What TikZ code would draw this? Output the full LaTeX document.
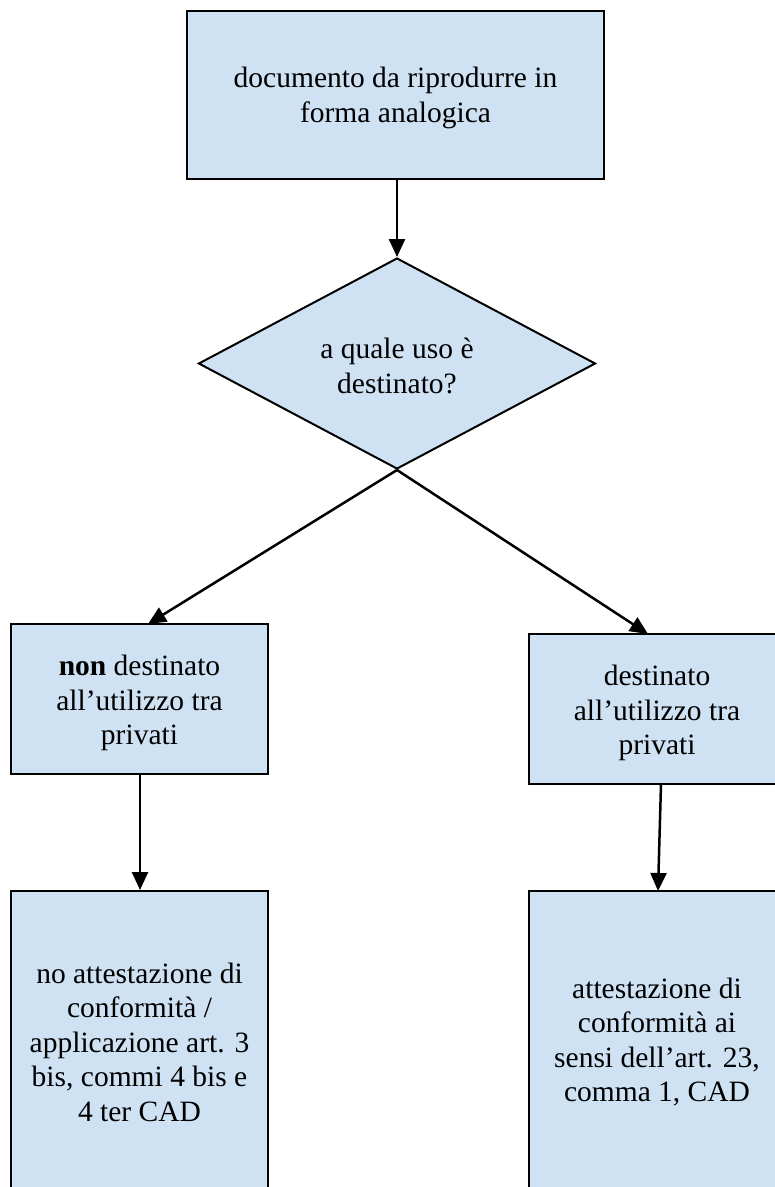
\documentclass[tikz,border=0pt]{standalone}
\usepackage{fontspec}
\setmainfont{Liberation Serif}
\usetikzlibrary{arrows.meta,shapes.geometric}
\definecolor{boxfill}{HTML}{CFE2F3}
\tikzset{
  box/.style={draw=black,line width=2pt,fill=boxfill,rectangle,inner sep=0pt},
  txt/.style={align=center,inner sep=0pt,font=\fontsize{29.5}{34.5}\selectfont},
  conn/.style={line width=2.5pt,-{Triangle[length=18pt,width=16pt]}},
}
\begin{document}
\begin{tikzpicture}[x=1pt,y=-1pt]
\useasboundingbox (0,0) rectangle (775,1187);
\clip (0,0) rectangle (775,1187);
% top box
\node[box,minimum width=417pt,minimum height=168pt] (top) at (395.5,95) {};
\node[txt] (topt) at ([yshift=-3pt]top.center) {documento da riprodurre in\\forma analogica};
% diamond
\node[draw=black,line width=2pt,fill=boxfill,diamond,inner sep=0pt,
  minimum width=397pt,minimum height=211pt] (dec) at (397,363.5) {};
\node[txt] (dectext) at (397,366) {a quale uso è\\destinato?};
% second row
\node[box,minimum width=257pt,minimum height=150pt] (left) at (139.5,699) {};
\node[txt] (leftt) at ([yshift=-4pt]left.center) {\textbf{non} destinato\\all’utilizzo tra\\privati};
\node[box,minimum width=256pt,minimum height=150pt] (right) at (657,709) {};
\node[txt] (rightt) at ([yshift=-4pt]right.center) {destinato\\all’utilizzo tra\\privati};
% third row
\node[box,minimum width=257pt,minimum height=302pt] (bl) at (139.5,1042) {};
\node[txt] (blt) at (bl.center) {no attestazione di\\conformità /\\applicazione art. 3\\bis, commi 4 bis e\\4 ter CAD};
\node[box,minimum width=256pt,minimum height=302pt] (br) at (657,1042) {};
\node[txt] (brt) at (br.center) {attestazione di\\conformità ai\\sensi dell’art. 23,\\comma 1, CAD};
% connectors
\draw[conn] (top.south -| dec.north) -- (dec.north);
\coordinate (lt) at (148,624);
\coordinate (rt) at (648,634);
\draw[conn] (dec.south) -- (lt);
\draw[conn] (dec.south) -- (rt);
\coordinate (lb) at (140,774);
\draw[conn] (lb) -- (lb |- bl.north);
\coordinate (rb) at (661,784);
\coordinate (rbt) at (658,891);
\draw[conn] (rb) -- (rbt);
\end{tikzpicture}
\end{document}
